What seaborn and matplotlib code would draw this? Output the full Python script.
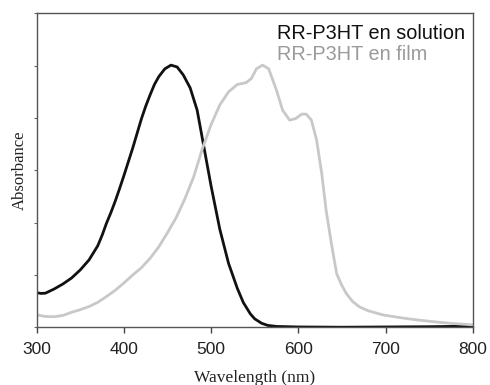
import matplotlib
matplotlib.use("Agg")
import matplotlib.pyplot as plt
import seaborn as sns
import pandas as pd

# UV-vis absorption spectra of regioregular P3HT (normalised)
wl_solution = [300, 305, 310, 320, 330, 340, 350, 360, 370, 375, 380, 385,
               390, 395, 400, 405, 410, 415, 420, 425, 430, 435, 440, 447,
               454, 461, 468, 476, 484, 491, 500, 510, 520, 530, 537, 545,
               550, 558, 565, 575, 600, 650, 700, 750, 800]
abs_solution = [0.133, 0.130, 0.131, 0.147, 0.166, 0.189, 0.220, 0.258, 0.312,
                0.352, 0.398, 0.438, 0.482, 0.530, 0.580, 0.632, 0.684, 0.740,
                0.796, 0.845, 0.888, 0.928, 0.958, 0.988, 1.002, 0.995, 0.965,
                0.915, 0.830, 0.703, 0.540, 0.375, 0.245, 0.150, 0.095, 0.052,
                0.033, 0.016, 0.008, 0.004, 0.002, 0.001, 0.002, 0.003, 0.005]

wl_film = [300, 310, 320, 330, 340, 350, 360, 370, 380, 390, 400, 410, 420,
           430, 440, 450, 460, 470, 480, 490, 500, 510, 520, 530, 540, 546,
           552, 559, 566, 575, 582, 590, 597, 604, 609, 615, 621, 627, 632,
           638, 644, 650, 655, 662, 670, 680, 697, 720, 736, 755, 774, 800]
abs_film = [0.048, 0.042, 0.041, 0.046, 0.058, 0.068, 0.080, 0.096, 0.118,
            0.142, 0.170, 0.200, 0.228, 0.264, 0.308, 0.362, 0.420, 0.492,
            0.575, 0.683, 0.775, 0.850, 0.900, 0.928, 0.935, 0.950, 0.988,
            1.002, 0.988, 0.906, 0.830, 0.792, 0.798, 0.815, 0.815, 0.792,
            0.716, 0.585, 0.445, 0.320, 0.205, 0.160, 0.130, 0.100, 0.079,
            0.064, 0.048, 0.036, 0.029, 0.022, 0.016, 0.010]

labels = ["RR-P3HT en solution", "RR-P3HT en film"]
colors = ["#111111", "#c8c8c8"]
text_colors = ["#111111", "#9a9a9a"]
x_ticks = [300, 400, 500, 600, 700, 800]

df = pd.concat([
    pd.DataFrame({"wl": wl_solution, "A": abs_solution, "sample": labels[0]}),
    pd.DataFrame({"wl": wl_film, "A": abs_film, "sample": labels[1]}),
])

sns.set_theme(style="white")
plt.rcParams["font.family"] = ["Liberation Sans", "DejaVu Sans"]

fig = plt.figure(figsize=(4.9, 3.85), dpi=100)
ax = fig.add_axes([0.0749, 0.1494, 0.8898, 0.8161])

sns.lineplot(data=df, x="wl", y="A", hue="sample", hue_order=labels,
             palette=colors, linewidth=2.0, ax=ax, sort=False, legend=False)

ax.set_xlim(300, 800)
ax.set_ylim(0, 1.2)
ax.set_xticks(x_ticks)
ax.set_xticklabels([str(t) for t in x_ticks], fontsize=12.5, color="#222222")
ax.set_yticks([0.2 * i for i in range(7)])
ax.set_yticklabels([])
ax.tick_params(axis="x", direction="out", length=4, width=1, color="#444444",
               pad=6.5, bottom=True)
ax.tick_params(axis="y", direction="out", length=2, width=0.8, color="#666666",
               left=True)

for s in ax.spines.values():
    s.set_color("#555555")
    s.set_linewidth(1.0)
    s.set_visible(True)

ax.set_xlabel("Wavelength (nm)", family="Liberation Serif", fontsize=12.5,
              color="#222222", labelpad=9)
ax.set_ylabel("Absorbance", family="Liberation Serif", fontsize=12,
              color="#222222", labelpad=1)

# series names, stacked in the upper right corner
for label, tc, yb in zip(labels, text_colors, [0.918, 0.851]):
    ax.text(0.5505, yb, label, transform=ax.transAxes, ha="left",
            va="baseline", fontsize=14.3, color=tc)

fig.savefig("out.png", dpi=100)
